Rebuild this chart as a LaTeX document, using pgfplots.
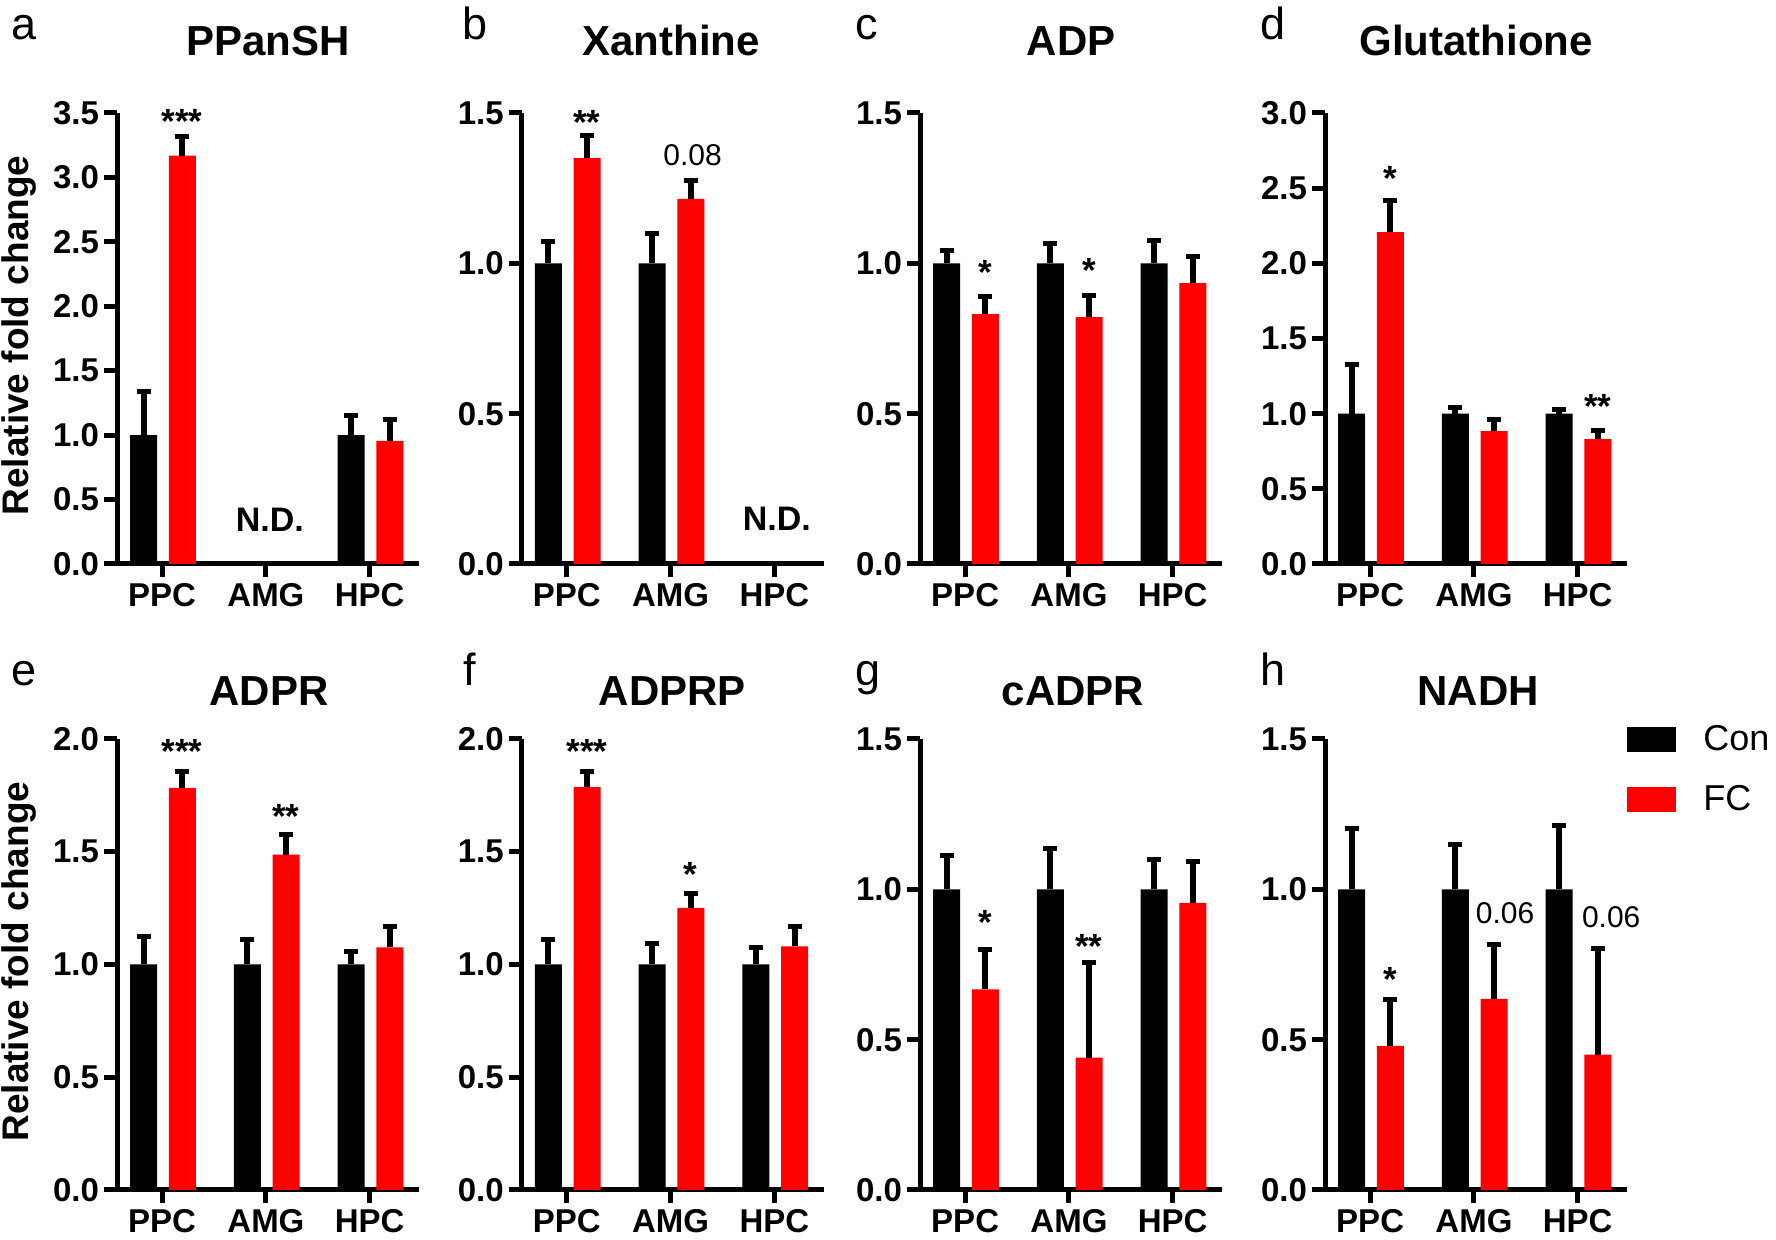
\documentclass[border=0pt]{standalone}
\usepackage{fontspec}
\setmainfont{Liberation Sans}
\usepackage{graphicx}
\usepackage{pgfplots}
\usepackage{pgfplotstable}
\pgfplotsset{compat=1.18}

\newcommand\tickfont{\bfseries\fontsize{16.5}{19}\selectfont}
\newcommand\catfont{\bfseries\fontsize{16.5}{19}\selectfont}
\newcommand\titlefont{\bfseries\fontsize{21}{25}\selectfont}
\newcommand\ylabfont{\bfseries\fontsize{18.5}{22}\selectfont}
\newcommand\starfont{\bfseries\fontsize{17.5}{20}\selectfont}
\newcommand\pfont{\fontsize{15}{18}\selectfont}
\newcommand\ndfont{\bfseries\fontsize{17}{20}\selectfont}
\newcommand\legfont{\fontsize{18}{21}\selectfont}
\newcommand\letfont{\fontsize{22.5}{26}\selectfont}

% x: 0=PPC 1=AMG 2=HPC ; c/ce = Con mean/SEM ; f/fe = FC mean/SEM
\pgfplotstableread{
x c ce f fe
0 1.0 0.340 3.170 0.145
2 1.0 0.150 0.956 0.163
}\dataA
\pgfplotstableread{
x c ce f fe
0 1.0 0.073 1.350 0.075
1 1.0 0.100 1.214 0.063
}\dataB
\pgfplotstableread{
x c ce f fe
0 1.0 0.042 0.831 0.057
1 1.0 0.065 0.821 0.073
2 1.0 0.075 0.934 0.088
}\dataC
\pgfplotstableread{
x c ce f fe
0 1.0 0.325 2.208 0.210
1 1.0 0.042 0.884 0.074
2 1.0 0.029 0.831 0.058
}\dataD
\pgfplotstableread{
x c ce f fe
0 1.0 0.125 1.783 0.075
1 1.0 0.111 1.487 0.088
2 1.0 0.059 1.076 0.093
}\dataE
\pgfplotstableread{
x c ce f fe
0 1.0 0.111 1.787 0.071
1 1.0 0.094 1.251 0.065
2 1.0 0.074 1.080 0.089
}\dataF
\pgfplotstableread{
x c ce f fe
0 1.0 0.113 0.667 0.134
1 1.0 0.135 0.440 0.315
2 1.0 0.098 0.955 0.138
}\dataG
\pgfplotstableread{
x c ce f fe
0 1.0 0.201 0.479 0.154
1 1.0 0.148 0.636 0.180
2 1.0 0.211 0.450 0.353
}\dataH

\pgfplotsset{
  panel/.style={
    scale only axis, width=151pt, height=225.5pt,
    anchor=south west, clip=false,
    axis lines=left,
    axis line style={line width=2.5pt, -},
    xmin=-0.435, xmax=2.475, ymin=0,
    xtick={0,1,2}, xticklabels={PPC,AMG,HPC},
    tick align=outside, major tick length=6.5pt,
    tick style={line width=2.5pt, black},
    minor tick num=0,
    yticklabel style={font=\tickfont, xshift=1pt},
    xticklabel style={font=\catfont, inner sep=0pt, yshift=-3pt},
    /pgf/number format/fixed,
    /pgf/number format/fixed zerofill,
    /pgf/number format/precision=1,
    /pgf/number format/assume math mode=true,
  },
  errstyle/.style={
    error bars/y dir=plus, error bars/y explicit,
    error bars/error bar style={line width=3pt, black, xshift=#1},
    error bars/error mark options={rotate=90, line width=2.5pt, mark size=3.5pt, black}},
  conbar/.style={ybar, bar width=13.5pt, bar shift=-9.3pt, fill=black, draw=none, errstyle=-9.3pt},
  fcbar/.style={ybar, bar width=13.5pt, bar shift=10.1pt, fill=red, draw=none, errstyle=10.1pt},
}
\tikzset{sigstar/.style={font=\starfont, anchor=center, yshift=-3.5pt}}

\begin{document}
\begin{tikzpicture}
\useasboundingbox (0,0) rectangle (888pt,620pt);

% ---------- a ----------
\begin{axis}[panel, at={(58.5pt,338pt)}, ymax=3.5, ytick={0,0.5,...,3.5}]
\addplot[conbar, forget plot] table[x=x, y=c, y error=ce] {\dataA};
\addplot[fcbar, forget plot] table[x=x, y=f, y error=fe] {\dataA};
\node[sigstar, xshift=10pt] at (axis cs:0,3.49) {***};
\node[font=\ndfont, xshift=2pt] at (axis cs:1,0.345) {N.D.};
\end{axis}

% ---------- b ----------
\begin{axis}[panel, at={(260.85pt,338pt)}, ymax=1.5, ytick={0,0.5,1.0,1.5}]
\addplot[conbar, forget plot] table[x=x, y=c, y error=ce] {\dataB};
\addplot[fcbar, forget plot] table[x=x, y=f, y error=fe] {\dataB};
\node[sigstar, xshift=10pt] at (axis cs:0,1.491) {**};
\node[font=\pfont, xshift=11pt] at (axis cs:1,1.361) {0.08};
\node[font=\ndfont, xshift=1.2pt] at (axis cs:2,0.150) {N.D.};
\end{axis}

% ---------- c ----------
\begin{axis}[panel, at={(460pt,338pt)}, ymax=1.5, ytick={0,0.5,1.0,1.5}]
\addplot[conbar, forget plot] table[x=x, y=c, y error=ce] {\dataC};
\addplot[fcbar, forget plot] table[x=x, y=f, y error=fe] {\dataC};
\node[sigstar, xshift=10pt] at (axis cs:0,0.992) {*};
\node[sigstar, xshift=10pt] at (axis cs:1,1.0) {*};
\end{axis}

% ---------- d ----------
\begin{axis}[panel, at={(662.5pt,338pt)}, ymax=3.0, ytick={0,0.5,...,3.0}]
\addplot[conbar, forget plot] table[x=x, y=c, y error=ce] {\dataD};
\addplot[fcbar, forget plot] table[x=x, y=f, y error=fe] {\dataD};
\node[sigstar, xshift=10pt] at (axis cs:0,2.612) {*};
\node[sigstar, xshift=10pt] at (axis cs:2,1.095) {**};
\end{axis}

% ---------- e ----------
\begin{axis}[panel, at={(58.5pt,25pt)}, ymax=2.0, ytick={0,0.5,1.0,1.5,2.0}]
\addplot[conbar, forget plot] table[x=x, y=c, y error=ce] {\dataE};
\addplot[fcbar, forget plot] table[x=x, y=f, y error=fe] {\dataE};
\node[sigstar, xshift=10pt] at (axis cs:0,1.974) {***};
\node[sigstar, xshift=10pt] at (axis cs:1,1.689) {**};
\end{axis}

% ---------- f ----------
\begin{axis}[panel, at={(260.85pt,25pt)}, ymax=2.0, ytick={0,0.5,1.0,1.5,2.0}]
\addplot[conbar, forget plot] table[x=x, y=c, y error=ce] {\dataF};
\addplot[fcbar, forget plot] table[x=x, y=f, y error=fe] {\dataF};
\node[sigstar, xshift=10pt] at (axis cs:0,1.974) {***};
\node[sigstar, xshift=10pt] at (axis cs:1,1.431) {*};
\end{axis}

% ---------- g ----------
\begin{axis}[panel, at={(460pt,25pt)}, ymax=1.5, ytick={0,0.5,1.0,1.5}]
\addplot[conbar, forget plot] table[x=x, y=c, y error=ce] {\dataG};
\addplot[fcbar, forget plot] table[x=x, y=f, y error=fe] {\dataG};
\node[sigstar, xshift=10pt] at (axis cs:0,0.912) {*};
\node[sigstar, xshift=10pt] at (axis cs:1,0.833) {**};
\end{axis}

% ---------- h ----------
\begin{axis}[panel, at={(662.5pt,25pt)}, ymax=1.5, ytick={0,0.5,1.0,1.5},
  legend style={at={(1.0,1.031)}, anchor=north west, draw=none, fill=none,
    inner sep=0pt, font=\legfont, row sep=16pt, column sep=13.5pt,
    nodes={inner sep=0pt}},
  legend cell align=left,
  legend image code/.code={\fill[#1] (0pt,-6.25pt) rectangle (24.5pt,6.25pt);}]
\addplot[conbar, forget plot] table[x=x, y=c, y error=ce] {\dataH};
\addplot[fcbar, forget plot] table[x=x, y=f, y error=fe] {\dataH};
\addlegendimage{fill=black, draw=none}
\addlegendentry{Con}
\addlegendimage{fill=red, draw=none}
\addlegendentry{FC}
\node[sigstar, xshift=10pt] at (axis cs:0,0.722) {*};
\node[font=\pfont, xshift=15.6pt] at (axis cs:1,0.921) {0.06};
\node[font=\pfont, xshift=16.75pt] at (axis cs:2,0.908) {0.06};
\end{axis}

% ---------- titles ----------
\node[font=\titlefont, anchor=base] at (134pt,592.1pt) {PPanSH};
\node[font=\titlefont, anchor=base] at (335.5pt,592.1pt) {Xanthine};
\node[font=\titlefont, anchor=base] at (535.5pt,592.1pt) {ADP};
\node[font=\titlefont, anchor=base] at (738pt,592.1pt) {Glutathione};
\node[font=\titlefont, anchor=base] at (134.5pt,267.15pt) {ADPR};
\node[font=\titlefont, anchor=base] at (336.25pt,267.15pt) {ADPRP};
\node[font=\titlefont, anchor=base] at (536.5pt,267.15pt) {cADPR};
\node[font=\titlefont, anchor=base] at (739pt,267.15pt) {NADH};

% ---------- panel letters ----------
\node[font=\letfont, anchor=base west, inner sep=0pt] at (5.5pt,600pt) {a};
\node[font=\letfont, anchor=base west, inner sep=0pt] at (231pt,600pt) {b};
\node[font=\letfont, anchor=base west, inner sep=0pt] at (427.5pt,600pt) {c};
\node[font=\letfont, anchor=base west, inner sep=0pt] at (630pt,600pt) {d};
\node[font=\letfont, anchor=base west, inner sep=0pt] at (5.5pt,277pt) {e};
\node[font=\letfont, anchor=base west, inner sep=0pt] at (231.5pt,277pt) {f};
\node[font=\letfont, anchor=base west, inner sep=0pt] at (427.5pt,277pt) {g};
\node[font=\letfont, anchor=base west, inner sep=0pt] at (630pt,277pt) {h};

% ---------- y labels ----------
\node[font=\ylabfont, rotate=90, anchor=center, inner sep=0pt] at (9.5pt,452.25pt) {Relative fold change};
\node[font=\ylabfont, rotate=90, anchor=center, inner sep=0pt] at (9.5pt,139.2pt) {Relative fold change};
\end{tikzpicture}
\end{document}
